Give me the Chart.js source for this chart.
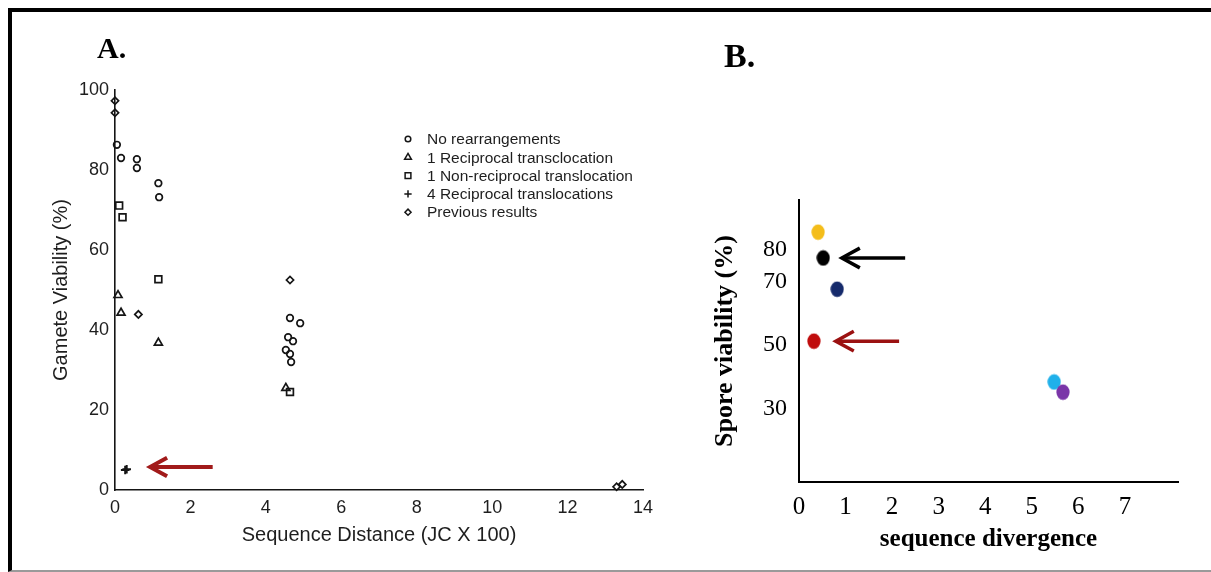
<!DOCTYPE html>
<html>
<head>
<meta charset="utf-8">
<script src="https://cdn.jsdelivr.net/npm/chart.js@4.4.1/dist/chart.umd.min.js"></script>
<style>
  html, body { margin: 0; padding: 0; background: #fff; }
  body { width: 1211px; height: 572px; position: relative; overflow: hidden; }
  #frame {
    position: absolute; left: 8px; top: 8px; width: 1220px; height: 558px;
    border-top: 4px solid #000; border-left: 4px solid #000; border-bottom: 2px solid #9a9a9a;
    pointer-events: none; z-index: 5;
  }
  #wrapA { position: absolute; left: 0; top: 0; width: 690px; height: 572px; }
  #wrapB { position: absolute; left: 680px; top: 0; width: 531px; height: 572px; }
  .panel-label {
    position: absolute; font-family: "Liberation Serif", "Times New Roman", serif;
    font-weight: bold; line-height: 1; color: #000; z-index: 4;
  }
  #labA { left: 97px; top: 33px; font-size: 30px; }
  #labB { left: 724px; top: 39px; font-size: 34px; }
</style>
</head>
<body>
<div id="wrapA"><canvas id="chartA" width="690" height="572"></canvas></div>
<div id="wrapB"><canvas id="chartB" width="531" height="572"></canvas></div>
<div class="panel-label" id="labA">A.</div>
<div class="panel-label" id="labB">B.</div>
<div id="frame"></div>
<script>
// ---- Panel A: gamete viability vs sequence distance ----
const noRearrangements = [[0.05, 86.3], [0.16, 83], [0.58, 82.7], [0.58, 80.5], [1.15, 76.7], [1.17, 73.2],
  [4.64, 43], [4.91, 41.7], [4.59, 38.2], [4.72, 37.2], [4.53, 35], [4.64, 34], [4.67, 32]];
const oneReciprocal = [[0.08, 48.7], [0.16, 44.3], [1.15, 36.8], [4.53, 25.5]];
const oneNonReciprocal = [[0.11, 71.1], [0.2, 68.2], [1.15, 52.7], [4.64, 24.5]];
const fourReciprocal = [[0.27, 5], [0.31, 5.2]];
const previousResults = [[0, 97.3], [0, 94.3], [0.62, 43.9], [4.64, 52.5], [13.3, 0.8], [13.45, 1.4]];
const seriesNamesA = ["No rearrangements", "1 Reciprocal transclocation", "1 Non-reciprocal translocation",
  "4 Reciprocal translocations", "Previous results"];
const ticksAX = [0, 2, 4, 6, 8, 10, 12, 14];
const ticksAY = [0, 20, 40, 60, 80, 100];

// ---- Panel B: spore viability vs sequence divergence ----
const divergenceB = [0.41, 0.52, 0.82, 0.32, 5.48, 5.67];
const sporeViabilityB = [85.4, 77.3, 67.5, 51.2, 38.4, 35.2];
const ticksBX = [0, 1, 2, 3, 4, 5, 6, 7];
const ticksBY = [30, 50, 70, 80];

const SANS = "'Liberation Sans', Arial, sans-serif";
const SERIF = "'Liberation Serif', 'Times New Roman', serif";
const INK = "#151515";

function toPoints(pairs) {
  return pairs.map(p => ({ x: p[0], y: p[1] }));
}

function drawMarker(ctx, style, x, y, r) {
  ctx.beginPath();
  if (style === "circle") {
    ctx.arc(x, y, r, 0, Math.PI * 2);
  } else if (style === "triangle") {
    ctx.moveTo(x, y - r);
    ctx.lineTo(x + r * 0.866, y + r / 2);
    ctx.lineTo(x - r * 0.866, y + r / 2);
    ctx.closePath();
  } else if (style === "rect") {
    ctx.rect(x - r * 0.707, y - r * 0.707, r * 1.414, r * 1.414);
  } else if (style === "cross") {
    ctx.moveTo(x - r, y); ctx.lineTo(x + r, y);
    ctx.moveTo(x, y - r); ctx.lineTo(x, y + r);
  } else if (style === "rectRot") {
    ctx.moveTo(x - r, y); ctx.lineTo(x, y - r);
    ctx.lineTo(x + r, y); ctx.lineTo(x, y + r);
    ctx.closePath();
  }
  ctx.stroke();
}

// legend drawn inside panel A plot area
const legendA = {
  id: "legendA",
  afterDraw(chart, args, opts) {
    const ctx = chart.ctx;
    ctx.save();
    ctx.font = "15.5px " + SANS;
    ctx.textBaseline = "middle";
    chart.data.datasets.forEach((ds, i) => {
      const y = opts.y + i * opts.rowH;
      ctx.strokeStyle = INK;
      ctx.lineWidth = 1.5;
      drawMarker(ctx, ds.pointStyle, opts.x, y, ds.pointRadius * 0.85);
      ctx.fillStyle = "#1e1e1e";
      ctx.fillText(ds.label, opts.textX, y + 1);
    });
    ctx.restore();
  }
};

// horizontal arrows given in data units
const arrows = {
  id: "arrows",
  afterDatasetsDraw(chart, args, opts) {
    const { ctx, scales } = chart;
    (opts.items || []).forEach(a => {
      const tip = scales.x.getPixelForValue(a.tip);
      const tail = scales.x.getPixelForValue(a.tail);
      const py = scales.y.getPixelForValue(a.y);
      ctx.save();
      ctx.strokeStyle = a.color;
      ctx.lineWidth = a.width;
      ctx.beginPath();
      ctx.moveTo(tail, py);
      ctx.lineTo(tip + 2, py);
      ctx.stroke();
      ctx.lineJoin = "miter";
      ctx.beginPath();
      ctx.moveTo(tip + a.head, py - a.head * 0.55);
      ctx.lineTo(tip, py);
      ctx.lineTo(tip + a.head, py + a.head * 0.55);
      ctx.stroke();
      ctx.restore();
    });
  }
};

function openSeries(label, pairs, style, r, bw) {
  return {
    label,
    data: toPoints(pairs),
    showLine: false,
    clip: false,
    pointStyle: style,
    pointRadius: r,
    pointHoverRadius: r,
    pointBorderWidth: bw,
    pointBorderColor: INK,
    pointBackgroundColor: "rgba(0,0,0,0)"
  };
}

new Chart(document.getElementById("chartA"), {
  type: "scatter",
  data: {
    datasets: [
      openSeries(seriesNamesA[0], noRearrangements, "circle", 3.3, 1.7),
      openSeries(seriesNamesA[1], oneReciprocal, "triangle", 4.6, 1.7),
      openSeries(seriesNamesA[2], oneNonReciprocal, "rect", 4.8, 1.7),
      openSeries(seriesNamesA[3], fourReciprocal, "cross", 4.3, 2),
      openSeries(seriesNamesA[4], previousResults, "rectRot", 3.6, 1.7)
    ]
  },
  options: {
    responsive: false,
    animation: false,
    layout: { padding: { left: 49, right: 47, top: 90, bottom: 25 } },
    plugins: {
      legend: { display: false },
      tooltip: { enabled: false },
      legendA: { x: 408, y: 139, rowH: 18.3, textX: 427 },
      arrows: { items: [{ tip: 0.93, tail: 2.59, y: 5.75, color: "#a11a1a", width: 4, head: 17 }] }
    },
    scales: {
      x: {
        type: "linear", min: 0, max: 14,
        grid: { display: false, drawTicks: false },
        border: { display: true, color: INK, width: 1.6 },
        ticks: { padding: 7, color: "#1e1e1e", font: { family: SANS, size: 18 }, maxRotation: 0 },
        afterBuildTicks: s => { s.ticks = ticksAX.map(v => ({ value: v })); },
        afterFit: s => { s.height = 57; },
        title: { display: true, text: "Sequence Distance (JC X 100)", color: "#1e1e1e",
          font: { family: SANS, size: 20 }, padding: 0 }
      },
      y: {
        type: "linear", min: 0, max: 100,
        grid: { display: false, drawTicks: false },
        border: { display: true, color: INK, width: 1.6 },
        ticks: { padding: 6, color: "#1e1e1e", font: { family: SANS, size: 18 } },
        afterBuildTicks: s => { s.ticks = ticksAY.map(v => ({ value: v })); },
        afterFit: s => { s.width = 66; },
        title: { display: true, text: "Gamete Viability (%)", color: "#1e1e1e",
          font: { family: SANS, size: 20 }, padding: 0 }
      }
    }
  },
  plugins: [legendA, arrows]
});

// filled ellipse markers for panel B
const colorsB = ["#f4bd1a", "#000000", "#152a6b", "#c00d0d", "#1fb0ea", "#7a35a8"];
function ellipseMarker(color) {
  const c = document.createElement("canvas");
  c.width = 14; c.height = 17;
  const g = c.getContext("2d");
  g.fillStyle = color;
  g.beginPath();
  g.ellipse(7, 8.5, 6.6, 7.8, 0, 0, Math.PI * 2);
  g.fill();
  return c;
}

new Chart(document.getElementById("chartB"), {
  type: "scatter",
  data: {
    datasets: [{
      label: "Spore viability",
      data: divergenceB.map((x, i) => ({ x, y: sporeViabilityB[i] })),
      showLine: false,
      clip: false,
      pointStyle: colorsB.map(ellipseMarker),
      pointRadius: 7,
      pointBackgroundColor: colorsB,
      pointBorderColor: colorsB
    }]
  },
  options: {
    responsive: false,
    animation: false,
    layout: { padding: { left: 30, right: 33, top: 200, bottom: 17 } },
    plugins: {
      legend: { display: false },
      tooltip: { enabled: false },
      arrows: {
        items: [
          { tip: 0.92, tail: 2.28, y: 77.3, color: "#000", width: 3.5, head: 18 },
          { tip: 0.79, tail: 2.15, y: 51.2, color: "#9b1111", width: 3.5, head: 18 }
        ]
      }
    },
    scales: {
      x: {
        type: "linear", min: 0, max: 8.14,
        grid: { display: false, drawTicks: false },
        border: { display: true, color: "#000", width: 2 },
        ticks: { padding: 10, color: "#000", font: { family: SERIF, size: 25 }, maxRotation: 0 },
        afterBuildTicks: s => { s.ticks = ticksBX.map(v => ({ value: v })); },
        afterFit: s => { s.height = 73; },
        title: { display: true, text: "sequence divergence", color: "#000",
          font: { family: SERIF, size: 25, weight: "bold" }, padding: 0 }
      },
      y: {
        type: "linear", min: 7, max: 95.5,
        grid: { display: false, drawTicks: false },
        border: { display: true, color: "#000", width: 2 },
        ticks: { padding: 12, color: "#000", font: { family: SERIF, size: 24 } },
        afterBuildTicks: s => { s.ticks = ticksBY.map(v => ({ value: v })); },
        afterFit: s => { s.width = 89; },
        title: { display: true, text: "Spore viability (%)", color: "#000",
          font: { family: SERIF, size: 26, weight: "bold" }, padding: 0 }
      }
    }
  },
  plugins: [arrows]
});
</script>
</body>
</html>
